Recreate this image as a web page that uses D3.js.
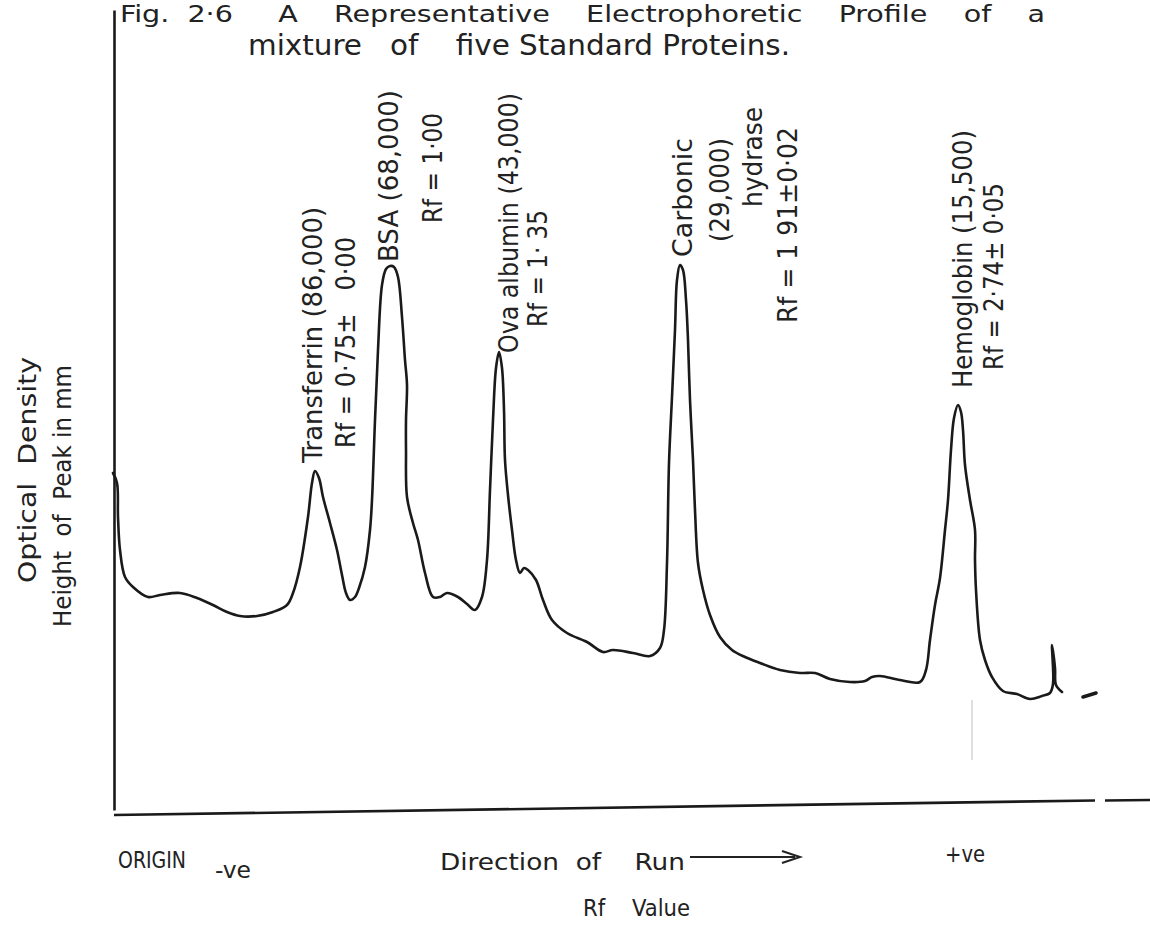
<!DOCTYPE html>
<html>
<head>
<meta charset="utf-8">
<style>
  body { margin: 0; background: #fff; }
  svg { display: block; }
  text { font-family: "DejaVu Sans Condensed", "Liberation Sans Narrow", "DejaVu Sans", sans-serif; fill: #222; white-space: pre; }
</style>
<script src="https://cdnjs.cloudflare.com/ajax/libs/d3/7.8.5/d3.min.js"></script>
</head>
<body>
<div class="chart"><svg></svg></div>
<script>
"use strict";

const CHART_WIDTH = 1150;
const CHART_HEIGHT = 932;

// densitometer trace: distance along the strip (mm) / pen height (mm)
const traceDistance = [-0.4, 0.4, 0.6, 1.0, 2.0, 3.6, 6.6, 9.0, 13.0, 16.4, 19.6, 22.4, 25.0, 28.4, 31.6, 34.4, 35.6, 37.0, 38.6, 39.4,
  40.0, 40.8, 41.6, 43.0, 44.4, 45.4, 46.2, 47.0, 48.0, 48.8, 50.0, 51.0, 51.4, 52.0, 52.6, 53.4, 54.2, 55.0, 55.8, 56.6,
  57.4, 58.0, 58.4, 58.2, 58.2, 58.4, 59.6, 60.6, 62.0, 63.6, 65.0, 66.4, 68.6, 70.4, 72.0, 73.4, 74.4, 75.0, 75.6, 76.2,
  76.8, 77.4, 77.8, 78.0, 78.6, 79.4, 80.2, 81.0, 81.8, 82.6, 84.2, 85.6, 87.4, 90.4, 94.4, 97.6, 99.6, 103.6, 107.0, 109.0,
  109.8, 110.4, 110.8, 111.4, 112.0, 112.4, 113.0, 113.6, 114.2, 114.6, 115.0, 115.6, 116.0, 116.6, 117.6, 119.0, 121.0, 123.4, 126.0, 129.0,
  133.0, 137.0, 140.0, 143.0, 147.0, 150.0, 151.4, 153.0, 157.0, 161.0, 162.2, 163.0, 164.0, 165.0, 166.0, 166.6, 167.2, 167.8, 168.6, 169.2,
  169.6, 170.0, 171.0, 172.0, 172.0, 172.2, 173.0, 174.0, 175.4, 177.6, 180.4, 183.0, 185.4, 187.0, 187.6, 187.4, 188.0, 188.2, 189.4];
const traceHeight = [67.4, 65.4, 58.6, 52.0, 46.6, 44.6, 42.6, 43.0, 43.4, 42.4, 41.0, 39.6, 38.8, 38.8, 39.6, 41.0, 43.4, 48.6, 58.6, 65.4,
  67.8, 66.4, 62.6, 57.4, 52.0, 47.0, 43.4, 42.0, 42.6, 44.4, 48.6, 56.0, 62.0, 78.0, 92.0, 105.0, 108.2, 108.8, 108.6, 106.6,
  98.6, 90.0, 85.0, 78.0, 72.0, 62.6, 57.4, 54.0, 47.4, 42.6, 42.6, 43.4, 42.6, 41.2, 40.0, 42.6, 50.0, 64.0, 78.0, 88.4,
  91.6, 88.4, 80.0, 70.0, 63.0, 56.0, 50.0, 47.4, 48.4, 48.0, 46.0, 42.0, 38.0, 35.4, 33.6, 31.6, 32.0, 31.4, 30.8, 32.4,
  36.0, 49.4, 69.4, 82.6, 96.0, 106.0, 109.0, 108.0, 102.0, 94.0, 82.0, 70.0, 60.0, 49.4, 44.0, 39.0, 34.6, 32.0, 30.6, 29.4,
  28.0, 27.4, 27.4, 26.2, 25.6, 25.8, 26.6, 26.8, 26.0, 25.6, 28.0, 34.0, 41.0, 46.4, 56.0, 62.0, 72.0, 78.4, 81.0, 79.6,
  76.0, 69.0, 62.0, 56.0, 50.0, 44.0, 34.0, 30.0, 26.6, 23.8, 23.2, 22.2, 22.8, 23.4, 25.2, 33.0, 28.4, 25.0, 23.6];

// stray pen stroke after the trace ends
const penDistance = [193.6, 196.2];
const penHeight = [22.6, 23.4];

// the five standard proteins
const proteinNames = ['Transferrin', 'BSA', 'Ova albumin', 'Carbonic hydrase', 'Hemoglobin'];
const molWeights = ['86,000', '68,000', '43,000', '29,000', '15,500'];
const rfValues = ['0·75±   0·00', '1·00', '1· 35', '1 91±0·02', '2·74± 0·05'];
const peakDistance = [40.0, 55.0, 76.8, 113.0, 168.6];
const peakHeight = [67.8, 108.8, 91.6, 109.0, 81.0];

const labelText = [
  ['Transferrin (86,000)', 'Rf = 0·75±   0·00'],
  ['BSA (68,000)', 'Rf = 1·00'],
  ['Ova albumin (43,000)', 'Rf = 1· 35'],
  ['Carbonic', '(29,000)', 'hydrase', 'Rf = 1 91±0·02'],
  ['Hemoglobin (15,500)', 'Rf = 2·74± 0·05']
];
// [baseline offset from peak, bottom offset from peak, text length] in px
const labelLayout = [
  [[7, -8, 256], [40, -23, 211]],
  [[8, -4, 172], [52, -43, 110]],
  [[19, 1, 260], [48, -25, 117]],
  [[12, -8, 119], [49, -23, 104], [82, -58, 100], [117, 58, 196]],
  [[14, -17, 258], [45, -35, 187]]
];

const svg = d3.select('.chart')
    .select('svg')
    .attr('width', CHART_WIDTH)
    .attr('height', CHART_HEIGHT);

svg.append('rect')
    .attr('width', CHART_WIDTH)
    .attr('height', CHART_HEIGHT)
    .attr('fill', '#fff');

const x = d3.scaleLinear().domain([0, 207]).range([115, 1150]);
const y = d3.scaleLinear().domain([0, 160]).range([810, 10]);

// axes, no ticks in the original
const yAxis = svg.append('g')
    .attr('transform', `translate(${x(0) - 1},0)`)
    .call(d3.axisLeft(y).ticks(0).tickSizeOuter(0));
yAxis.select('.domain').attr('stroke', '#1a1a1a').attr('stroke-width', 2.6);

const baseLine = d3.line().x(d => x(d[0])).y(d => y(d[1]));
[[[-0.2, -1], [196, 1.9]], [[198, 1.9], [207, 2.0]]].forEach(seg => {
  svg.append('path')
      .attr('d', baseLine(seg))
      .attr('stroke', '#1a1a1a')
      .attr('stroke-width', 2.6)
      .attr('fill', 'none');
});

// faint pencil mark under hemoglobin
svg.append('line')
    .attr('x1', x(171.4)).attr('x2', x(171.4))
    .attr('y1', y(22)).attr('y2', y(10))
    .attr('stroke', '#d4d4d4')
    .attr('stroke-width', 1.5);

const trace = d3.line()
    .x(d => x(d[0]))
    .y(d => y(d[1]))
    .curve(d3.curveCatmullRom.alpha(0.5));

svg.append('path')
    .attr('class', 'trace')
    .attr('d', trace(d3.zip(traceDistance, traceHeight)))
    .attr('stroke', '#1a1a1a')
    .attr('stroke-width', 2.6)
    .attr('stroke-linejoin', 'round')
    .attr('stroke-linecap', 'round')
    .attr('fill', 'none');

svg.append('path')
    .attr('d', d3.line()(d3.zip(penDistance, penHeight).map(d => [x(d[0]), y(d[1])])))
    .attr('stroke', '#1a1a1a')
    .attr('stroke-width', 3.5)
    .attr('stroke-linecap', 'round')
    .attr('fill', 'none');

// rotated peak labels
labelText.forEach((lines, i) => {
  const px = x(peakDistance[i]);
  const py = y(peakHeight[i]);
  lines.forEach((t, j) => {
    const [dx, dy, len] = labelLayout[i][j];
    svg.append('text')
        .attr('transform', `translate(${px + dx},${py + dy}) rotate(-90)`)
        .attr('font-size', 26)
        .attr('textLength', len)
        .attr('lengthAdjust', 'spacingAndGlyphs')
        .text(t);
  });
});

function addText(t, tx, ty, size, len, rot){
  const el = svg.append('text')
      .attr('transform', rot ? `translate(${tx},${ty}) rotate(-90)` : `translate(${tx},${ty})`)
      .attr('font-size', size)
      .text(t);
  if(len) el.attr('textLength', len).attr('lengthAdjust', 'spacingAndGlyphs');
  return el;
}

// title
addText('Fig.  2·6     A    Representative    Electrophoretic    Profile    of    a', 120, 22, 23, 925);
addText('mixture   of    five Standard Proteins.', 248, 55, 28, 542);

// y axis titles
addText('Optical  Density', 36, 583, 25, 226, true);
addText('Height  of  Peak in mm', 71, 627, 25, 262, true);

// bottom annotations
addText('ORIGIN', 118, 868, 23, 68);
addText('-ve', 215, 878, 23, 36);
addText('Direction  of    Run', 440, 870, 23, 245);
addText('+ve', 945, 862, 23, 40);
addText('Rf    Value', 583, 916, 23, 107);

svg.append('line')
    .attr('x1', 690).attr('x2', 795)
    .attr('y1', 857).attr('y2', 857)
    .attr('stroke', '#222')
    .attr('stroke-width', 2);
svg.append('path')
    .attr('d', 'M782,851 L800,857 L782,863')
    .attr('stroke', '#222')
    .attr('stroke-width', 2)
    .attr('fill', 'none');
</script>
</body>
</html>
